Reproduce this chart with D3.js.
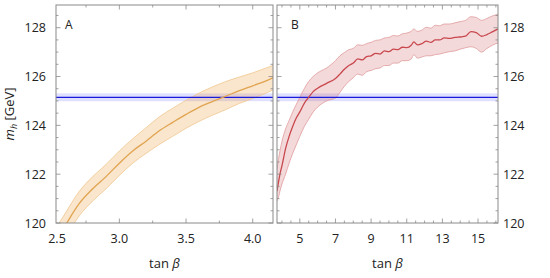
<!DOCTYPE html>
<html>
<head>
<meta charset="utf-8">
<script src="https://cdn.jsdelivr.net/npm/d3@7"></script>
<style>
  body { margin: 0; background: #fff; }
  text { font-family: "Open Sans", sans-serif; fill: #222; }
</style>
</head>
<body>
<svg id="chart" width="550" height="278"></svg>
<script>
// panel A: tan beta vs m_h (orange band)
const tanA = [2.5, 2.6, 2.7, 2.8, 2.9, 3.0, 3.1, 3.2, 3.3, 3.4, 3.5, 3.6, 3.7, 3.8, 3.9, 4.0, 4.1, 4.16];
const midA = [119.05, 119.95, 120.8, 121.4, 121.9, 122.45, 122.95, 123.35, 123.78, 124.12, 124.45, 124.75, 124.98, 125.2, 125.42, 125.62, 125.82, 125.97];
const hiA  = [119.55, 120.45, 121.3, 121.9, 122.4, 122.95, 123.45, 123.9, 124.35, 124.7, 125.03, 125.33, 125.58, 125.8, 125.98, 126.15, 126.35, 126.47];
const loA  = [118.6, 119.45, 120.3, 120.9, 121.4, 121.95, 122.45, 122.85, 123.22, 123.55, 123.88, 124.17, 124.42, 124.65, 124.9, 125.1, 125.32, 125.47];

// panel B: tan beta vs m_h (red band)
const tanB = [3.72, 3.8, 3.9, 4.0, 4.2, 4.4, 4.6, 4.8, 5.0, 5.25, 5.5, 5.75, 6.0, 6.5, 7.0, 7.25, 7.5,
  7.75, 8.0, 8.25, 8.5, 8.75, 9.0, 9.25, 9.5, 9.75, 10.0, 10.25, 10.5, 10.75, 11.0, 11.25, 11.4, 11.6, 11.85,
  12.1, 12.35, 12.6, 12.85, 13.1, 13.4, 13.7, 14.0, 14.3, 14.6, 14.9, 15.2, 15.5, 15.8, 16.12];
const midB = [121.3, 121.65, 122.05, 122.35, 123.05, 123.55, 123.95, 124.3, 124.55, 124.9, 125.15, 125.38, 125.52, 125.72, 125.92, 126.1, 126.3,
  126.45, 126.55, 126.72, 126.68, 126.82, 126.85, 126.95, 126.92, 127.05, 127.02, 127.12, 127.1, 127.2, 127.18, 127.28, 127.42, 127.3, 127.35,
  127.45, 127.4, 127.5, 127.5, 127.58, 127.56, 127.6, 127.62, 127.65, 127.84, 127.8, 127.65, 127.72, 127.83, 127.95];
const hiB  = [122.2, 122.6, 123.0, 123.35, 123.85, 124.2, 124.55, 124.85, 125.15, 125.5, 125.8, 126.0, 126.15, 126.35, 126.65, 126.85, 126.98,
  127.1, 127.15, 127.3, 127.28, 127.35, 127.4, 127.48, 127.5, 127.58, 127.6, 127.68, 127.66, 127.75, 127.78, 127.85, 127.95, 127.85, 127.9,
  128.02, 127.98, 128.1, 128.08, 128.15, 128.15, 128.2, 128.25, 128.3, 128.45, 128.42, 128.3, 128.38, 128.48, 128.55];
const loB  = [120.9, 121.05, 121.35, 121.6, 122.0, 122.45, 122.85, 123.2, 123.55, 123.95, 124.25, 124.55, 124.75, 125.0, 125.12, 125.35, 125.6,
  125.8, 125.95, 126.1, 126.05, 126.2, 126.25, 126.32, 126.35, 126.45, 126.45, 126.55, 126.55, 126.65, 126.65, 126.72, 126.9, 126.75, 126.8,
  126.85, 126.85, 126.9, 126.92, 126.97, 127.02, 127.05, 127.12, 127.18, 127.22, 127.15, 127.0, 127.15, 127.28, 127.38];

// measured Higgs mass band
const higgs = [125.15];
const higgsErr = [0.16];

const yTicks = [120, 122, 124, 126, 128];
const xTicksA = [2.5, 3.0, 3.5, 4.0];
const xTicksB = [5, 7, 9, 11, 13, 15];

const svg = d3.select("#chart");
const yTop = 5, yBottom = 223;

const y = d3.scaleLinear().domain([120, 128.93]).range([yBottom, yTop]);

const panels = [
  { id: "A", x: d3.scaleLinear().domain([2.525, 4.152]).range([56, 273]),
    tan: tanA, mid: midA, hi: hiA, lo: loA, letterDx: 9,
    line: "#e0a450", fill: "rgba(238,170,90,0.3)", edge: "#f0c890",
    labels: xTicksA, minor: d3.range(2.5, 4.2, 0.25), fmt: d3.format(".1f"), ySide: "left" },
  { id: "B", x: d3.scaleLinear().domain([3.72, 16.12]).range([277, 498]),
    tan: tanB, mid: midB, hi: hiB, lo: loB, letterDx: 14,
    line: "#c8484e", fill: "rgba(205,80,85,0.22)", edge: "#e09a9c",
    labels: xTicksB, minor: d3.range(4, 16.5, 0.5), fmt: d3.format("d"), ySide: "right" }
];

panels.forEach((p, i) => {
  const x = p.x;
  const [x0, x1] = x.range();
  const g = svg.append("g");

  g.append("clipPath").attr("id", "clip" + i)
    .append("rect").attr("x", x0).attr("y", yTop).attr("width", x1 - x0).attr("height", yBottom - yTop);

  const plot = g.append("g").attr("clip-path", `url(#clip${i})`);
  const pts = p.tan.map((t, k) => ({ t, m: p.mid[k], hi: p.hi[k], lo: p.lo[k] }));

  // higgs band
  plot.append("rect")
    .attr("x", x0).attr("width", x1 - x0)
    .attr("y", y(higgs[0] + higgsErr[0]))
    .attr("height", y(higgs[0] - higgsErr[0]) - y(higgs[0] + higgsErr[0]))
    .attr("fill", "rgba(120,120,255,0.24)");

  const area = d3.area().curve(d3.curveMonotoneX)
    .x(d => x(d.t)).y0(d => y(d.lo)).y1(d => y(d.hi));
  plot.append("path").datum(pts).attr("d", area).attr("fill", p.fill);

  ["hi", "lo"].forEach(key => {
    plot.append("path").datum(pts)
      .attr("d", d3.line().curve(d3.curveMonotoneX).x(d => x(d.t)).y(d => y(d[key])))
      .attr("fill", "none").attr("stroke", p.edge).attr("stroke-width", 0.8);
  });

  plot.append("line")
    .attr("x1", x0).attr("x2", x1)
    .attr("y1", y(higgs[0])).attr("y2", y(higgs[0]))
    .attr("stroke", "#1a1adb").attr("stroke-width", 1.2);

  plot.append("path").datum(pts)
    .attr("d", d3.line().curve(d3.curveMonotoneX).x(d => x(d.t)).y(d => y(d.m)))
    .attr("fill", "none").attr("stroke", p.line).attr("stroke-width", 1.3);

  // frame
  g.append("rect")
    .attr("x", x0).attr("y", yTop).attr("width", x1 - x0).attr("height", yBottom - yTop)
    .attr("fill", "none").attr("stroke", "#8a8a8a").attr("stroke-width", 1);

  // ticks pointing inward on all sides
  const tk = g.append("g").attr("stroke", "#8a8a8a").attr("stroke-width", 0.8);
  p.minor.filter(v => x(v) > x0 + 0.5 && x(v) < x1 - 0.5).forEach(v => {
    const major = p.labels.some(l => Math.abs(l - v) < 1e-6);
    const len = major ? 4.5 : 2.5;
    tk.append("line").attr("x1", x(v)).attr("x2", x(v)).attr("y1", yBottom).attr("y2", yBottom - len);
    tk.append("line").attr("x1", x(v)).attr("x2", x(v)).attr("y1", yTop).attr("y2", yTop + len);
  });
  d3.range(120, 129, 0.5).forEach(v => {
    const major = yTicks.includes(v);
    const len = major ? 4.5 : 2.5;
    tk.append("line").attr("x1", x0).attr("x2", x0 + len).attr("y1", y(v)).attr("y2", y(v));
    tk.append("line").attr("x1", x1).attr("x2", x1 - len).attr("y1", y(v)).attr("y2", y(v));
  });

  // x tick labels
  g.selectAll(".xl").data(p.labels).join("text")
    .attr("x", d => Math.max(x(d), x0 + 1)).attr("y", 243)
    .attr("text-anchor", "middle").attr("font-size", 12.5)
    .text(p.fmt);

  // y tick labels
  g.selectAll(".yl").data(yTicks).join("text")
    .attr("x", p.ySide === "left" ? x0 - 10 : x1 + 5)
    .attr("y", d => y(d) + 4.5)
    .attr("text-anchor", p.ySide === "left" ? "end" : "start")
    .attr("font-size", 12.5)
    .text(d => d);

  // panel letter
  g.append("text").attr("x", x0 + p.letterDx).attr("y", 29)
    .attr("font-size", 12).text(p.id);

  // x title
  const xt = g.append("text").attr("x", (x0 + x1) / 2).attr("y", 268)
    .attr("text-anchor", "middle").attr("font-size", 13);
  xt.append("tspan").text("tan ");
  xt.append("tspan").attr("font-style", "italic").text("β");
});

// y title
const yt = svg.append("text")
  .attr("transform", `translate(14,${(yTop + yBottom) / 2}) rotate(-90)`)
  .attr("text-anchor", "middle").attr("font-size", 13);
yt.append("tspan").attr("font-style", "italic").text("m");
yt.append("tspan").attr("font-size", 9).attr("dy", 3).attr("font-style", "italic").text("h");
yt.append("tspan").attr("dy", -3).text(" [GeV]");
</script>
</body>
</html>
